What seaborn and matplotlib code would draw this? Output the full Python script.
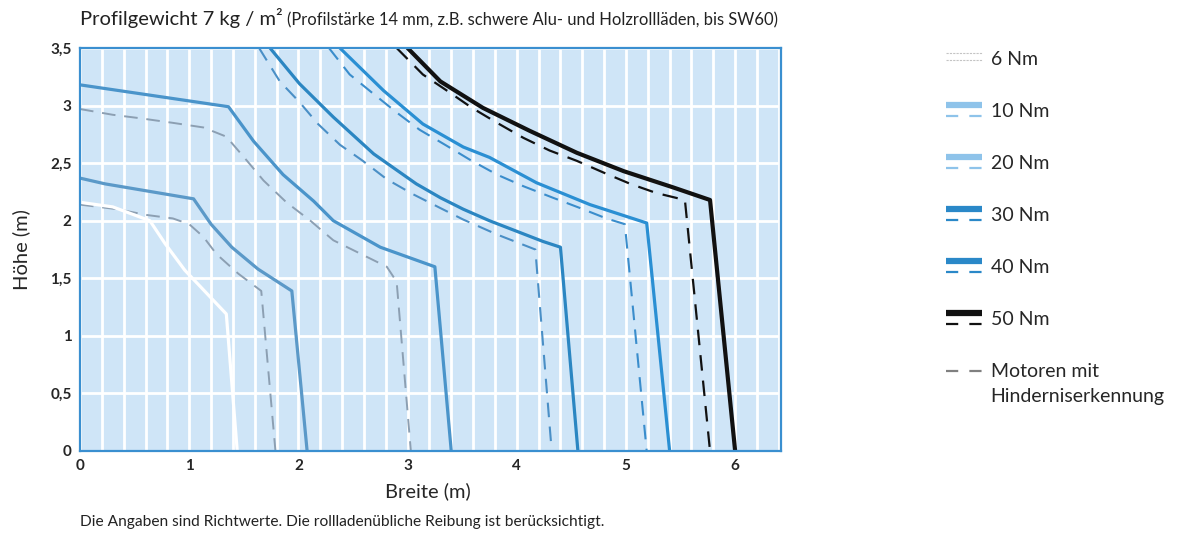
import numpy as np
import pandas as pd
import matplotlib
matplotlib.use("Agg")
import matplotlib.pyplot as plt
from matplotlib.lines import Line2D
from matplotlib.legend_handler import HandlerBase
import seaborn as sns

# curve data (Breite in m, Höhe in m)
w6 = [0, 0.30, 0.64, 0.78, 0.96, 1.17, 1.34, 1.44]
h6 = [2.16, 2.12, 2.00, 1.80, 1.57, 1.36, 1.19, 0]

w10 = [0, 0.23, 1.04, 1.20, 1.39, 1.63, 1.94, 2.08]
h10 = [2.37, 2.32, 2.19, 1.97, 1.77, 1.58, 1.39, 0]
w10_dash = [0, 0.34, 0.61, 0.85, 1.00, 1.13, 1.25, 1.45, 1.66, 1.79]
h10_dash = [2.14, 2.10, 2.05, 2.02, 1.97, 1.86, 1.71, 1.54, 1.39, 0]

w20 = [0, 1.36, 1.59, 1.86, 2.14, 2.32, 2.75, 3.25, 3.40]
h20 = [3.18, 2.99, 2.69, 2.40, 2.17, 2.00, 1.77, 1.60, 0]
w20_dash = [0, 0.30, 0.55, 0.85, 1.13, 1.34, 1.53, 1.68, 1.89, 2.11, 2.32, 2.81, 2.90, 3.03]
h20_dash = [2.97, 2.92, 2.89, 2.85, 2.81, 2.73, 2.52, 2.35, 2.16, 2.00, 1.83, 1.60, 1.47, 0]

w30 = [1.74, 2.01, 2.32, 2.69, 3.08, 3.30, 3.51, 3.75, 4.24, 4.40, 4.56]
h30 = [3.50, 3.19, 2.90, 2.58, 2.32, 2.20, 2.10, 2.00, 1.82, 1.77, 0]
w30_dash = [1.64, 1.83, 2.01, 2.18, 2.38, 2.59, 2.81, 3.05, 3.30, 3.51, 3.82, 4.17, 4.32]
h30_dash = [3.50, 3.21, 3.03, 2.84, 2.66, 2.52, 2.36, 2.23, 2.11, 2.01, 1.88, 1.75, 0]

w40 = [2.38, 2.78, 3.14, 3.51, 3.75, 4.18, 4.67, 5.19, 5.40]
h40 = [3.50, 3.13, 2.84, 2.64, 2.55, 2.33, 2.14, 1.98, 0]
w40_dash = [2.28, 2.47, 2.69, 2.90, 3.11, 3.36, 3.57, 3.82, 4.06, 4.33, 4.58, 4.82, 4.99, 5.19]
h40_dash = [3.50, 3.27, 3.10, 2.94, 2.79, 2.65, 2.53, 2.40, 2.30, 2.20, 2.11, 2.02, 1.97, 0]

w50 = [3.00, 3.30, 3.69, 4.12, 4.55, 4.98, 5.43, 5.77, 6.00]
h50 = [3.50, 3.21, 2.98, 2.78, 2.59, 2.43, 2.29, 2.18, 0]
w50_dash = [2.90, 3.14, 3.36, 3.59, 3.82, 4.06, 4.30, 4.55, 4.79, 5.04, 5.28, 5.54, 5.77]
h50_dash = [3.50, 3.27, 3.13, 2.98, 2.85, 2.72, 2.61, 2.52, 2.42, 2.32, 2.24, 2.18, 0]

legend_labels = ["6 Nm", "10 Nm", "20 Nm", "30 Nm", "40 Nm", "50 Nm",
                 "Motoren mit\nHinderniserkennung"]
x_ticks = [0, 1, 2, 3, 4, 5, 6]
y_ticks = [0, 0.5, 1, 1.5, 2, 2.5, 3, 3.5]
y_tick_labels = ["0", "0,5", "1", "1,5", "2", "2,5", "3", "3,5"]

sns.set_style("white")
plt.rcParams["font.family"] = ["Lato", "DejaVu Sans"]

DASH = (0, (7, 4.5))

fig = plt.figure(figsize=(11.82, 5.35), dpi=100)
ax = fig.add_axes([80 / 1182, 1 - 451 / 535, 701 / 1182, 403 / 535])
ax.set_facecolor("#cfe5f7")

# solid = standard motors, dashed = motors with obstacle detection
curves = [
    (w10_dash, h10_dash, "#8c9fb2", 1.4, DASH),
    (w20_dash, h20_dash, "#8c9fb2", 1.4, DASH),
    (w30_dash, h30_dash, "#4a8fc6", 1.5, DASH),
    (w40_dash, h40_dash, "#3a8dcc", 1.5, DASH),
    (w50_dash, h50_dash, "#111111", 1.6, DASH),
    (w6, h6, "white", 2.3, "-"),
    (w10, h10, "#5b99c8", 2.3, "-"),
    (w20, h20, "#4a94ca", 2.3, "-"),
    (w30, h30, "#2b86c2", 2.3, "-"),
    (w40, h40, "#2a8fd3", 2.3, "-"),
    (w50, h50, "#111111", 3.0, "-"),
]
for xs, ys, col, lw, ls in curves:
    sns.lineplot(x=xs, y=ys, sort=False, estimator=None, color=col,
                 linewidth=lw, linestyle=ls, ax=ax, legend=False)

ax.set_xlim(0, 6.42)
ax.set_ylim(0, 3.5)
ax.set_xticks(x_ticks)
ax.set_xticklabels([str(t) for t in x_ticks])
ax.set_yticks(y_ticks)
ax.set_yticklabels(y_tick_labels)
ax.set_xticks(np.arange(0.2, 6.41, 0.2), minor=True)
ax.tick_params(which="both", length=0)
ax.tick_params(axis="both", labelsize=11, pad=6)
for lab in ax.get_xticklabels() + ax.get_yticklabels():
    lab.set_fontweight("bold")
ax.grid(which="major", axis="y", color="white", linewidth=2.0)
ax.grid(which="minor", axis="x", color="white", linewidth=2.0)
ax.grid(which="major", axis="x", color="white", linewidth=2.0)
ax.set_axisbelow(True)
for sp in ax.spines.values():
    sp.set_color("#3a8fd0")
    sp.set_linewidth(1.6)

ax.set_xlabel("Breite (m)", fontsize=14.5)
ax.set_ylabel("Höhe (m)", fontsize=14.5)
ax.xaxis.set_label_coords(0.496, -31 / 403)
ax.yaxis.set_label_coords(-50 / 701, 0.5)

# title in two sizes
t1 = fig.text(80 / 1182, 1 - 25 / 535, "Profilgewicht 7 kg / m²", fontsize=14.5,
              va="baseline", ha="left", color="#222222")
fig.canvas.draw()
bb = t1.get_window_extent()
fig.text((bb.x1 + 4) / 1182, 1 - 25 / 535,
         "(Profilstärke 14 mm, z.B. schwere Alu- und Holzrollläden, bis SW60)",
         fontsize=11.9, va="baseline", ha="left", color="#222222")

fig.text(80 / 1182, 1 - 522 / 535,
         "Die Angaben sind Richtwerte. Die rollladenübliche Reibung ist berücksichtigt.",
         fontsize=11.2, va="center", ha="left", color="#222222")


# legend: thick solid sample on top, dashed sample below
class DoubleLine(HandlerBase):
    def create_artists(self, legend, orig_handle, xdescent, ydescent,
                       width, height, fontsize, trans):
        col, lw, dash_col, mode = orig_handle.spec
        x0, x1 = -xdescent, width - xdescent
        arts = []
        if mode == "both":
            arts.append(Line2D([x0, x1], [0.9 * height] * 2, color=col,
                               linewidth=lw, solid_capstyle="butt"))
            arts.append(Line2D([x0, x1], [0.05 * height] * 2, color=dash_col,
                               linewidth=1.6, linestyle=(0, (5.5, 5))))
        elif mode == "faint":
            for yy in (0.9 * height, 0.4 * height):
                arts.append(Line2D([x0, x1], [yy] * 2, color="#c4c4c4",
                                   linewidth=0.8, linestyle=(0, (2, 1))))
        else:
            arts.append(Line2D([x0, x1], [0.5 * height + 10] * 2, color=col,
                               linewidth=1.6, linestyle=(0, (5.5, 5))))
        for a in arts:
            a.set_transform(trans)
        return arts


specs = [
    ("#c4c4c4", 1, "#c4c4c4", "faint"),
    ("#8ec3ea", 4.5, "#8ec3ea", "both"),
    ("#8ec3ea", 4.5, "#8ec3ea", "both"),
    ("#2a88c8", 4.5, "#2a88c8", "both"),
    ("#2a88c8", 4.5, "#2a88c8", "both"),
    ("#111111", 4.5, "#111111", "both"),
    ("#808080", 1, "#808080", "grey"),
]
handles = []
for sp in specs:
    h = Line2D([], [])
    h.spec = sp
    handles.append(h)

leg = fig.legend(handles, legend_labels, handler_map={Line2D: DoubleLine()},
                 loc="upper left", bbox_to_anchor=(946 / 1182, 1 - 51 / 535),
                 frameon=False, fontsize=14, handlelength=1.85, handleheight=0.7,
                 handletextpad=0.45, labelspacing=1.8, borderpad=0,
                 borderaxespad=0)
for t in leg.get_texts():
    t.set_linespacing(1.6)

fig.savefig("out.png", dpi=100)
